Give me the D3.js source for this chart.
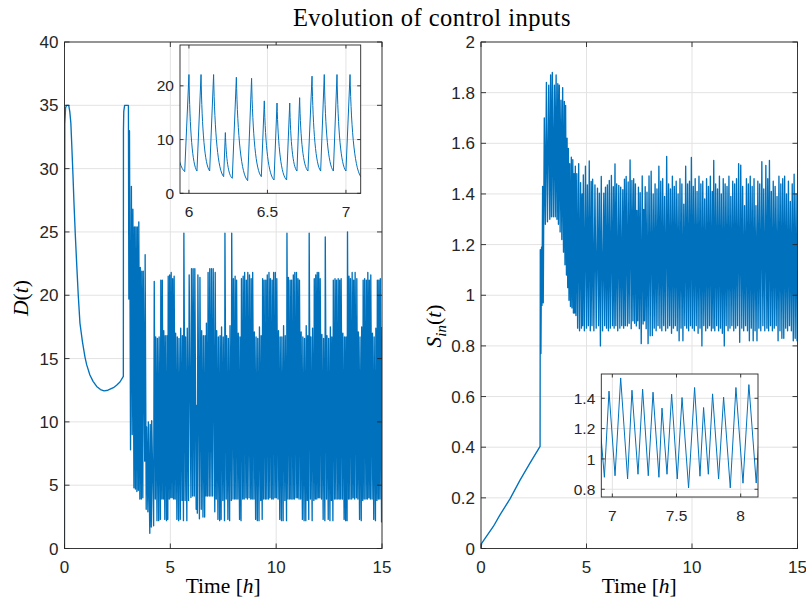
<!DOCTYPE html>
<html><head><meta charset="utf-8">
<script src="https://cdn.jsdelivr.net/npm/d3@7"></script>
<style>body{margin:0;background:#fff}</style>
</head><body><div id="chart"></div>
<script>
// ---------------- DATA ----------------
const title = "Evolution of control inputs";
const xTicksMain = [0, 5, 10, 15];
const dTicksMain = [0, 5, 10, 15, 20, 25, 30, 35, 40];
const sTicksMain = [0, 0.2, 0.4, 0.6, 0.8, 1, 1.2, 1.4, 1.6, 1.8, 2];
const dInsetXTicks = [6, 6.5, 7];
const dInsetYTicks = [0, 10, 20];
const sInsetXTicks = [7, 7.5, 8];
const sInsetYTicks = [0.8, 1, 1.2, 1.4];
const dInsetXRange = [5.943, 7.094];
const dInsetYRange = [0, 27.6];
const sInsetXRange = [6.914, 8.135];
const sInsetYRange = [0.749, 1.56];

// D(t): smooth start-up part
const dStartTime = [0,0.015,0.05,0.1,0.2,0.25,0.30,0.34,0.40,0.45,0.51,0.575,0.65,0.73,0.85,0.97,1.05,1.2,1.35,1.52,1.7,1.87,2.05,2.31,2.46,2.62,2.78,2.785,2.80,2.84,2.88,3.02,3.04];
const dStartValue = [0,33.5,34.8,35,35,34.5,33.6,32.0,29.5,27.2,24.8,22.5,20.0,17.8,16.3,15.1,14.5,13.7,13.2,12.8,12.55,12.45,12.5,12.7,12.9,13.15,13.6,33.0,34.5,35.0,35.0,35.0,19.7];
// D(t): pulse peaks and the trough that follows each peak
const dPeakTime = [3.07,3.16,3.23,3.30,3.37,3.44,3.51,3.58,3.65,3.72,3.81,3.88,3.96,4.05,4.12,4.24,4.31,4.39,4.47,4.55,4.62,4.69,4.76,4.84,4.90,4.97,5.04,5.11,5.18,5.25,5.33,5.41,5.49,5.57,5.64,5.72,5.80,5.89,6.000,6.077,6.157,6.232,6.302,6.399,6.480,6.561,6.642,6.705,6.784,6.862,6.943,7.026,7.12,7.19,7.27,7.35,7.42,7.50,7.58,7.66,7.74,7.82,7.90,7.98,8.06,8.13,8.21,8.29,8.36,8.44,8.51,8.59,8.66,8.74,8.82,8.89,8.97,9.05,9.13,9.21,9.29,9.36,9.43,9.51,9.58,9.66,9.73,9.81,9.88,9.96,10.03,10.11,10.19,10.27,10.35,10.43,10.51,10.58,10.66,10.73,10.81,10.88,10.96,11.03,11.10,11.18,11.26,11.34,11.42,11.49,11.56,11.64,11.72,11.80,11.87,11.94,12.01,12.08,12.16,12.24,12.32,12.40,12.48,12.56,12.63,12.70,12.78,12.85,12.93,13.00,13.07,13.15,13.23,13.30,13.37,13.44,13.51,13.59,13.66,13.73,13.81,13.88,13.96,14.04,14.11,14.18,14.26,14.33,14.40,14.47,14.55,14.63,14.71,14.78,14.85,14.92,15.00];
const dPeakValue = [33.0,28.6,26.8,25.4,25.4,25.4,25.8,22.2,21.9,21.9,23.2,9.6,10.0,9.8,10.1,21.1,16.7,16.6,16.7,21.2,21.2,17.2,16.8,16.8,21.5,21.6,21.8,21.3,21.5,17.0,16.7,16.6,17.4,16.8,24.9,16.7,17.4,21.6,22.1,22.1,22.1,11.3,21.6,21.4,17.2,16.8,16.8,17.8,21.8,22.1,22.1,22.1,21.8,17.2,16.7,16.8,17.5,16.7,24.9,16.8,16.6,17.6,24.9,21.3,21.5,21.2,17.0,16.7,21.3,21.5,21.8,21.2,21.8,21.6,21.3,21.8,17.1,16.7,16.6,17.5,16.8,21.3,21.2,21.2,21.6,21.8,21.3,21.2,21.8,21.8,21.3,17.2,16.7,16.7,17.6,16.8,24.9,21.4,21.2,21.2,21.6,21.8,21.8,21.3,21.2,17.1,16.7,16.6,17.6,16.8,24.9,16.7,17.4,21.3,21.6,21.8,21.8,21.3,16.9,16.6,24.6,16.8,16.6,17.5,16.7,21.2,21.3,21.2,21.3,21.2,21.3,17.0,16.7,16.7,25.0,21.5,21.3,21.8,21.2,21.8,21.3,17.1,16.7,17.5,21.2,21.3,21.2,21.8,21.2,21.6,17.0,16.7,17.4,21.2,21.2,21.3,17.5];
const dTroughTime = [3.12,3.20,3.28,3.35,3.42,3.49,3.56,3.63,3.70,3.79,3.86,3.94,4.03,4.10,4.21,4.29,4.37,4.45,4.53,4.60,4.67,4.74,4.82,4.88,4.95,5.02,5.09,5.16,5.23,5.31,5.39,5.47,5.55,5.62,5.70,5.78,5.86,5.973,6.051,6.132,6.221,6.276,6.374,6.461,6.542,6.622,6.688,6.758,6.839,6.920,7.000,7.10,7.17,7.25,7.33,7.40,7.48,7.56,7.64,7.72,7.80,7.88,7.96,8.04,8.11,8.19,8.27,8.34,8.42,8.49,8.57,8.64,8.72,8.80,8.87,8.95,9.03,9.11,9.19,9.27,9.34,9.41,9.49,9.56,9.64,9.71,9.79,9.86,9.94,10.01,10.09,10.17,10.25,10.33,10.41,10.49,10.56,10.64,10.71,10.79,10.86,10.94,11.01,11.08,11.16,11.24,11.32,11.40,11.47,11.54,11.62,11.70,11.78,11.85,11.92,11.99,12.06,12.14,12.22,12.30,12.38,12.46,12.54,12.61,12.68,12.76,12.83,12.91,12.98,13.05,13.13,13.21,13.28,13.35,13.42,13.49,13.57,13.64,13.71,13.79,13.86,13.94,14.02,14.09,14.16,14.24,14.31,14.38,14.45,14.53,14.61,14.69,14.76,14.83,14.90,14.98];
const dTroughValue = [7.8,9.0,4.8,4.7,4.5,4.6,3.9,3.9,4.0,6.9,3.1,2.9,1.2,1.7,1.8,3.9,2.2,2.2,2.3,3.9,3.9,2.3,2.2,2.3,3.9,4.0,4.0,3.9,3.9,2.3,2.2,2.3,3.8,2.2,3.8,2.2,3.8,4.03,4.15,4.15,3.10,2.79,2.35,3.10,2.48,2.48,4.15,4.15,4.15,4.15,4.15,2.9,3.9,2.3,2.2,2.3,3.8,2.2,3.9,2.3,2.2,3.8,3.9,3.9,3.9,3.9,2.3,2.2,3.9,3.9,4.0,3.9,4.0,3.9,3.9,3.9,2.3,2.2,2.2,3.8,2.3,3.9,3.9,3.9,3.9,4.0,3.9,3.9,4.0,4.0,3.9,2.3,2.2,2.2,3.8,2.2,3.9,3.9,3.9,3.9,3.9,4.0,4.0,3.9,3.9,2.3,2.2,2.2,3.8,2.3,3.9,2.2,3.8,3.9,3.9,4.0,4.0,3.9,2.3,2.2,3.9,2.3,2.2,3.8,2.2,3.9,3.9,3.9,3.9,3.9,3.9,2.3,2.2,2.2,3.9,3.9,3.9,4.0,3.9,4.0,3.9,2.3,2.2,3.8,3.9,3.9,3.9,4.0,3.9,3.9,2.3,2.2,3.8,3.9,3.9,2.1];

// S_in(t): ramp part
const sStartTime = [0,0.03,0.585,0.9,1.375,1.85,2.32,2.80];
const sStartValue = [0,0.02,0.087,0.133,0.196,0.27,0.337,0.403];
// S_in(t): zig-zag peaks and the trough after each peak
const sPeakTime = [2.81,2.87,2.92,3.00,3.10,3.21,3.30,3.38,3.48,3.56,3.64,3.71,3.79,3.87,3.95,4.01,4.08,4.14,4.205,4.28,4.35,4.41,4.47,4.54,4.63,4.72,4.79,4.85,4.95,5.04,5.13,5.22,5.29,5.40,5.52,5.61,5.70,5.82,5.90,5.99,6.08,6.18,6.27,6.35,6.43,6.53,6.62,6.72,6.80,6.88,6.974,7.065,7.153,7.236,7.317,7.387,7.462,7.543,7.641,7.711,7.781,7.867,7.963,8.064,8.16,8.25,8.34,8.43,8.52,8.61,8.70,8.80,8.89,8.98,9.07,9.16,9.25,9.34,9.43,9.52,9.61,9.70,9.79,9.88,9.97,10.06,10.15,10.24,10.33,10.42,10.51,10.60,10.69,10.78,10.87,10.96,11.03,11.12,11.21,11.30,11.39,11.48,11.57,11.66,11.75,11.84,11.93,12.02,12.11,12.21,12.31,12.40,12.49,12.58,12.67,12.76,12.85,12.94,13.03,13.12,13.21,13.31,13.40,13.50,13.59,13.67,13.76,13.85,13.94,14.03,14.12,14.21,14.30,14.39,14.48,14.57,14.66,14.75,14.84,14.93,15.00];
const sPeakValue = [1.18,1.19,1.43,1.70,1.84,1.83,1.87,1.88,1.83,1.87,1.835,1.83,1.77,1.82,1.765,1.75,1.62,1.58,1.52,1.545,1.535,1.48,1.51,1.48,1.52,1.445,1.40,1.475,1.51,1.436,1.53,1.449,1.458,1.436,1.423,1.403,1.469,1.403,1.427,1.436,1.453,1.473,1.429,1.519,1.44,1.434,1.427,1.417,1.458,1.469,1.447,1.534,1.453,1.46,1.44,1.335,1.427,1.405,1.471,1.339,1.429,1.407,1.471,1.49,1.40,1.44,1.42,1.51,1.45,1.46,1.39,1.548,1.44,1.42,1.47,1.43,1.45,1.40,1.46,1.44,1.36,1.51,1.44,1.45,1.544,1.43,1.46,1.41,1.47,1.44,1.45,1.38,1.46,1.43,1.47,1.41,1.532,1.44,1.42,1.47,1.40,1.46,1.44,1.43,1.47,1.39,1.45,1.44,1.46,1.52,1.514,1.43,1.354,1.46,1.44,1.47,1.43,1.46,1.354,1.45,1.44,1.527,1.42,1.513,1.46,1.532,1.41,1.45,1.43,1.39,1.47,1.44,1.46,1.47,1.40,1.45,1.37,1.44,1.478,1.40,1.10];
const sTroughTime = [2.84,2.89,2.95,3.05,3.15,3.26,3.34,3.43,3.52,3.60,3.67,3.75,3.83,3.91,3.98,4.05,4.11,4.17,4.24,4.31,4.38,4.44,4.50,4.58,4.67,4.76,4.82,4.90,5.00,5.09,5.18,5.26,5.35,5.46,5.57,5.66,5.76,5.86,5.95,6.04,6.13,6.23,6.31,6.39,6.48,6.58,6.67,6.76,6.84,6.938,7.021,7.119,7.200,7.280,7.363,7.426,7.506,7.594,7.683,7.748,7.828,7.919,8.018,8.121,8.21,8.30,8.39,8.48,8.57,8.66,8.75,8.85,8.94,9.03,9.12,9.21,9.30,9.39,9.48,9.57,9.66,9.75,9.84,9.93,10.02,10.11,10.20,10.29,10.38,10.47,10.56,10.65,10.74,10.83,10.92,11.00,11.08,11.17,11.26,11.35,11.44,11.53,11.62,11.71,11.80,11.89,11.98,12.07,12.16,12.26,12.36,12.45,12.54,12.63,12.72,12.81,12.90,12.99,13.08,13.17,13.26,13.36,13.45,13.55,13.63,13.72,13.81,13.90,13.99,14.08,14.17,14.26,14.35,14.44,14.53,14.62,14.71,14.80,14.89,14.98];
const sTroughValue = [0.77,0.96,0.97,1.28,1.29,1.30,1.31,1.31,1.31,1.30,1.28,1.25,1.22,1.17,1.12,1.08,1.03,0.98,0.956,0.95,0.93,0.93,0.92,0.87,0.86,0.87,0.88,0.86,0.87,0.88,0.86,0.88,0.86,0.87,0.88,0.80,0.86,0.88,0.87,0.86,0.87,0.88,0.87,0.88,0.86,0.87,0.88,0.87,0.88,0.879,0.889,0.868,0.899,0.889,0.879,0.899,0.868,0.809,0.886,0.899,0.868,0.809,0.84,0.841,0.87,0.86,0.88,0.87,0.86,0.88,0.86,0.87,0.88,0.85,0.87,0.88,0.86,0.82,0.87,0.82,0.88,0.87,0.86,0.88,0.87,0.86,0.88,0.85,0.87,0.80,0.88,0.86,0.87,0.88,0.86,0.87,0.86,0.88,0.86,0.87,0.85,0.80,0.88,0.86,0.87,0.88,0.86,0.87,0.88,0.814,0.87,0.86,0.88,0.86,0.82,0.87,0.82,0.86,0.82,0.87,0.86,0.88,0.86,0.87,0.86,0.88,0.86,0.87,0.88,0.82,0.86,0.83,0.83,0.87,0.86,0.88,0.86,0.82,0.83,0.82];

// ---------------- DRAWING ----------------
const W = 806, H = 601;
const BLUE = '#0072BD', AX = '#262626', GRID = '#e3e3e3';
const SANS = '"Liberation Sans", Arial, Helvetica, sans-serif';
const SERIF = '"Liberation Serif", "Times New Roman", serif';

const svg = d3.select('#chart').append('svg')
  .attr('width', W).attr('height', H).style('background', '#fff').style('display', 'block');

function buildSeries(startT, startV, peakT, peakV, troughT, troughV) {
  const pts = [];
  startT.forEach((t, i) => pts.push({t, v: startV[i], k: 'n'}));
  peakT.forEach((t, i) => {
    pts.push({t, v: peakV[i], k: 'p'});
    if (i < troughT.length) pts.push({t: troughT[i], v: troughV[i], k: 'd'});
  });
  return pts;
}
const dSeries = buildSeries(dStartTime, dStartValue, dPeakTime, dPeakValue, dTroughTime, dTroughValue);
const sSeries = buildSeries(sStartTime, sStartValue, sPeakTime, sPeakValue, sTroughTime, sTroughValue);

let clipId = 0;
function makeAxes(box, xDomain, yDomain, opt) {
  const g = svg.append('g');
  const x = d3.scaleLinear().domain(xDomain).range([box.l, box.r]);
  const y = d3.scaleLinear().domain(yDomain).range([box.b, box.t]);
  const id = 'clip' + (clipId++);
  svg.append('clipPath').attr('id', id).append('rect')
    .attr('x', box.l).attr('y', box.t).attr('width', box.r - box.l).attr('height', box.b - box.t);
  g.append('rect').attr('x', box.l).attr('y', box.t).attr('width', box.r - box.l)
    .attr('height', box.b - box.t).attr('fill', '#fff');
  const gg = g.append('g').attr('stroke', GRID).attr('stroke-width', 1);
  opt.xTicks.forEach(v => gg.append('line').attr('x1', x(v)).attr('x2', x(v)).attr('y1', box.t).attr('y2', box.b));
  opt.yTicks.forEach(v => gg.append('line').attr('y1', y(v)).attr('y2', y(v)).attr('x1', box.l).attr('x2', box.r));
  const dataG = g.append('g').attr('clip-path', `url(#${id})`);
  const frame = g.append('g');
  return {g, x, y, box, dataG, frame, opt};
}
function finishAxes(a) {
  const {x, y, box, frame, opt} = a;
  const tl = opt.tickLen;
  const tg = frame.append('g').attr('stroke', AX).attr('stroke-width', 0.9);
  opt.xTicks.forEach(v => {
    tg.append('line').attr('x1', x(v)).attr('x2', x(v)).attr('y1', box.b).attr('y2', box.b - tl);
    tg.append('line').attr('x1', x(v)).attr('x2', x(v)).attr('y1', box.t).attr('y2', box.t + tl);
  });
  opt.yTicks.forEach(v => {
    tg.append('line').attr('y1', y(v)).attr('y2', y(v)).attr('x1', box.l).attr('x2', box.l + tl);
    tg.append('line').attr('y1', y(v)).attr('y2', y(v)).attr('x1', box.r).attr('x2', box.r - tl);
  });
  frame.append('rect').attr('x', box.l).attr('y', box.t).attr('width', box.r - box.l)
    .attr('height', box.b - box.t).attr('fill', 'none').attr('stroke', AX).attr('stroke-width', 0.9);
  const lg = frame.append('g').attr('fill', AX).style('font-family', SANS).style('font-size', opt.fontSize + 'px');
  opt.xTicks.forEach(v => lg.append('text').attr('x', x(v)).attr('y', box.b + opt.xLabDy)
    .attr('text-anchor', 'middle').text(opt.fmt(v)));
  opt.yTicks.forEach(v => lg.append('text').attr('x', box.l - opt.yLabDx).attr('y', y(v))
    .attr('dy', '0.36em').attr('text-anchor', 'end').text(opt.fmt(v)));
}
function drawSeries(a, pts, curved, width) {
  const {x, y} = a;
  const p = d3.path();
  pts.forEach((d, i) => {
    const X = x(d.t), Y = y(d.v);
    if (i === 0) { p.moveTo(X, Y); return; }
    const prev = pts[i - 1];
    if (curved && d.k === 'd' && prev.k === 'p') {
      const X0 = x(prev.t), Y0 = y(prev.v), dx = X - X0, dy = Y - Y0;
      p.bezierCurveTo(X0 + dx * 0.12, Y0 + dy * 0.6, X0 + dx * 0.45, Y - dy * 0.06, X, Y);
    } else p.lineTo(X, Y);
  });
  a.dataG.append('path').attr('d', p.toString()).attr('fill', 'none')
    .attr('stroke', BLUE).attr('stroke-width', width).attr('stroke-linejoin', 'round');
}
const fmt = v => String(+v.toFixed(2));

const mainOpt = {tickLen: 5, fontSize: 17, xLabDy: 24, yLabDx: 6, fmt};
const insetOpt = {tickLen: 3.5, fontSize: 15.5, xLabDy: 23.5, yLabDx: 6, fmt};

// Left main axes: D(t)
const A1 = makeAxes({l: 64.5, r: 382, t: 42, b: 548.5}, [0, 15], [0, 40],
  Object.assign({xTicks: xTicksMain, yTicks: dTicksMain}, mainOpt));
drawSeries(A1, dSeries, false, 1.35);
finishAxes(A1);

// Right main axes: S_in(t)
const A2 = makeAxes({l: 481, r: 797.5, t: 42, b: 548.5}, [0, 15], [0, 2],
  Object.assign({xTicks: xTicksMain, yTicks: sTicksMain}, mainOpt));
drawSeries(A2, sSeries, false, 1.35);
finishAxes(A2);

// Insets
const I1 = makeAxes({l: 180, r: 360.7, t: 45, b: 193.3}, dInsetXRange, dInsetYRange,
  Object.assign({xTicks: dInsetXTicks, yTicks: dInsetYTicks}, insetOpt));
drawSeries(I1, dSeries, true, 1);
finishAxes(I1);

const I2 = makeAxes({l: 601.3, r: 758, t: 374, b: 497}, sInsetXRange, sInsetYRange,
  Object.assign({xTicks: sInsetXTicks, yTicks: sInsetYTicks}, insetOpt));
drawSeries(I2, sSeries, false, 1);
finishAxes(I2);

// Title and axis labels
svg.append('text').attr('x', 432).attr('y', 26).attr('text-anchor', 'middle')
  .style('font-family', SERIF).style('font-size', '24.5px').style('letter-spacing', '0.5px')
  .attr('fill', '#000').text(title);

function timeLabel(cx) {
  const t = svg.append('text').attr('x', cx).attr('y', 593).attr('text-anchor', 'middle')
    .style('font-family', SERIF).style('font-size', '21.5px').attr('fill', '#000');
  t.append('tspan').text('Time [');
  t.append('tspan').style('font-style', 'italic').text('h');
  t.append('tspan').text(']');
}
timeLabel((64.5 + 382) / 2);
timeLabel((481 + 797.5) / 2);

const dl = svg.append('text').attr('transform', 'translate(28,298) rotate(-90)').attr('text-anchor', 'middle')
  .style('font-family', SERIF).style('font-size', '21.5px').attr('fill', '#000');
dl.append('tspan').style('font-style', 'italic').text('D');
dl.append('tspan').text('(');
dl.append('tspan').style('font-style', 'italic').text('t');
dl.append('tspan').text(')');

const sl = svg.append('text').attr('transform', 'translate(441,326) rotate(-90)').attr('text-anchor', 'middle')
  .style('font-family', SERIF).style('font-size', '21.5px').attr('fill', '#000');
sl.append('tspan').style('font-style', 'italic').text('S');
sl.append('tspan').style('font-style', 'italic').style('font-size', '15px').attr('dy', 5).text('in');
sl.append('tspan').attr('dy', -5).text('(');
sl.append('tspan').style('font-style', 'italic').text('t');
sl.append('tspan').text(')');
</script></body></html>
